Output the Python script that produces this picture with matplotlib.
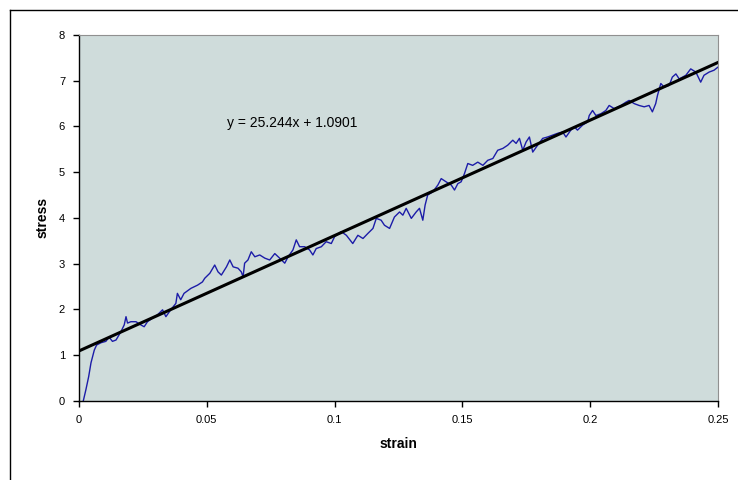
# stress-strain curve with linear trendline (Excel-style)

import numpy as np
import matplotlib.pyplot as plt
from matplotlib.lines import Line2D

plt.rcParams['font.family'] = ['Liberation Sans', 'DejaVu Sans']

strain = [0.0017, 0.0027, 0.0038, 0.0047, 0.0060, 0.0069, 0.0086, 0.0105, 0.0118, 0.0131,
          0.0145, 0.0164, 0.0177, 0.0184, 0.0190, 0.0203, 0.0223, 0.0242, 0.0255, 0.0268,
          0.0288, 0.0307, 0.0327, 0.0340, 0.0359, 0.0379, 0.0385, 0.0398, 0.0411, 0.0438,
          0.0464, 0.0483, 0.0492, 0.0512, 0.0531, 0.0544, 0.0557, 0.0577, 0.0590, 0.0603,
          0.0622, 0.0635, 0.0642, 0.0648, 0.0661, 0.0674, 0.0688, 0.0707, 0.0727, 0.0746,
          0.0766, 0.0785, 0.0805, 0.0818, 0.0837, 0.0850, 0.0863, 0.0883, 0.0902, 0.0915,
          0.0928, 0.0948, 0.0967, 0.0987, 0.1000, 0.1026, 0.1046, 0.1071, 0.1091, 0.1111,
          0.1130, 0.1150, 0.1163, 0.1182, 0.1195, 0.1215, 0.1234, 0.1254, 0.1267, 0.1280,
          0.1300, 0.1319, 0.1332, 0.1345, 0.1354, 0.1364, 0.1384, 0.1404, 0.1417, 0.1436,
          0.1456, 0.1469, 0.1482, 0.1495, 0.1508, 0.1521, 0.1540, 0.1560, 0.1580, 0.1599,
          0.1619, 0.1638, 0.1658, 0.1677, 0.1697, 0.1710, 0.1723, 0.1736, 0.1749, 0.1762,
          0.1775, 0.1794, 0.1814, 0.1833, 0.1853, 0.1872, 0.1892, 0.1905, 0.1924, 0.1938,
          0.1950, 0.1970, 0.1990, 0.1996, 0.2009, 0.2022, 0.2042, 0.2061, 0.2074, 0.2094,
          0.2120, 0.2139, 0.2152, 0.2172, 0.2191, 0.2211, 0.2230, 0.2243, 0.2256, 0.2263,
          0.2276, 0.2289, 0.2309, 0.2321, 0.2335, 0.2348, 0.2361, 0.2374, 0.2393, 0.2413,
          0.2432, 0.2445, 0.2465, 0.2484, 0.2500]
stress = [0.00, 0.24, 0.53, 0.83, 1.11, 1.22, 1.27, 1.30, 1.39, 1.30,
          1.33, 1.51, 1.66, 1.84, 1.70, 1.73, 1.73, 1.66, 1.62, 1.73,
          1.81, 1.88, 1.99, 1.84, 1.99, 2.13, 2.35, 2.21, 2.35, 2.46,
          2.53, 2.60, 2.68, 2.79, 2.97, 2.82, 2.75, 2.93, 3.08, 2.93,
          2.90, 2.82, 2.71, 3.01, 3.08, 3.26, 3.15, 3.19, 3.12, 3.08,
          3.22, 3.12, 3.01, 3.15, 3.30, 3.52, 3.37, 3.37, 3.30, 3.19,
          3.33, 3.37, 3.48, 3.44, 3.59, 3.70, 3.62, 3.44, 3.62, 3.55,
          3.66, 3.77, 3.99, 3.95, 3.84, 3.77, 4.02, 4.13, 4.06, 4.21,
          3.99, 4.13, 4.21, 3.95, 4.28, 4.50, 4.57, 4.72, 4.86, 4.79,
          4.72, 4.61, 4.75, 4.79, 4.97, 5.19, 5.15, 5.22, 5.15, 5.26,
          5.30, 5.48, 5.52, 5.59, 5.70, 5.63, 5.74, 5.48, 5.66, 5.77,
          5.44, 5.59, 5.74, 5.77, 5.81, 5.85, 5.88, 5.77, 5.92, 5.99,
          5.92, 6.03, 6.10, 6.24, 6.35, 6.24, 6.28, 6.35, 6.46, 6.39,
          6.46, 6.53, 6.57, 6.50, 6.46, 6.43, 6.46, 6.32, 6.50, 6.68,
          6.94, 6.86, 6.90, 7.08, 7.15, 7.04, 7.08, 7.12, 7.26, 7.19,
          6.97, 7.12, 7.19, 7.23, 7.30]

slope = 25.244
intercept = 1.0901
x_ticks = [0, 0.05, 0.1, 0.15, 0.2, 0.25]
x_tick_labels = ['0', '0.05', '0.1', '0.15', '0.2', '0.25']
y_ticks = [0, 1, 2, 3, 4, 5, 6, 7, 8]

fig = plt.figure(figsize=(7.38, 4.8), dpi=100)
ax = fig.add_axes([0.107, 0.165, 0.866, 0.762])
ax.set_facecolor('#cfdcdb')

ax.plot(strain, stress, color='#1c1ca8', lw=1.0)
xs = np.array([0, 0.25])
ax.plot(xs, slope * xs + intercept, color='black', lw=2.2)

ax.text(0.058, 6.07, f'y = {slope}x + {intercept}', fontsize=10, va='center', ha='left')

ax.set_xlim(0, 0.25)
ax.set_ylim(0, 8)
ax.set_xticks(x_ticks)
ax.set_xticklabels(x_tick_labels)
ax.set_yticks(y_ticks)
ax.tick_params(labelsize=8, length=4, width=1, pad=6)

for s in ['top', 'right']:
    ax.spines[s].set_color('#909090')
    ax.spines[s].set_linewidth(0.8)
for s in ['left', 'bottom']:
    ax.spines[s].set_color('black')
    ax.spines[s].set_linewidth(1.0)

ax.set_xlabel('strain', fontsize=10, fontweight='bold', labelpad=9)
ax.set_ylabel('stress', fontsize=10, fontweight='bold', labelpad=7)

# outer chart frame (only left and top visible in the crop)
fig.add_artist(Line2D([10 / 738, 10 / 738], [0, 470 / 480], color='black', lw=1.0,
                      transform=fig.transFigure))
fig.add_artist(Line2D([10 / 738, 1], [470 / 480, 470 / 480], color='black', lw=1.0,
                      transform=fig.transFigure))

fig.savefig('out.png', dpi=100)
